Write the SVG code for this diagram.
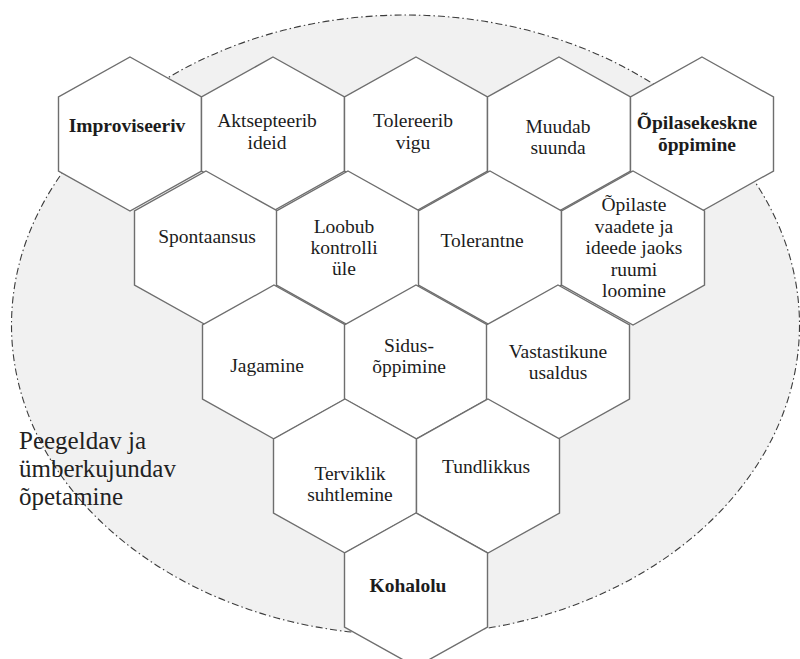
<svg xmlns="http://www.w3.org/2000/svg" width="800" height="659" viewBox="0 0 800 659">
<defs>
<polygon id="hexshape" points="0,0 71.5,40 71.5,114 0,154 -71.5,114 -71.5,40" fill="#ffffff" stroke="#6e6e6e" stroke-width="1.4"/>
</defs>
<rect width="800" height="659" fill="#ffffff"/>
<g id="area">
<ellipse cx="405.5" cy="325" rx="394" ry="310" fill="#f1f1f1" stroke="#3c3c3c" stroke-width="1.1" stroke-dasharray="7 3 1.5 3"/>
<text x="19" y="449" font-size="25" font-family="Liberation Serif" fill="#222222">Peegeldav ja</text>
<text x="19" y="477" font-size="25" font-family="Liberation Serif" fill="#222222">ümberkujundav</text>
<text x="19" y="505" font-size="25" font-family="Liberation Serif" fill="#222222">õpetamine</text>
</g>
<g id="connectors"></g>
<g id="improviseeriv">
<use href="#hexshape" x="130" y="57"/>
<text x="127" y="132" font-size="19.5" font-family="Liberation Serif" fill="#1c1c1c" text-anchor="middle" font-weight="bold">Improviseeriv</text>
</g>
<g id="aktsepteerib">
<use href="#hexshape" x="273" y="57"/>
<text x="267" y="127" font-size="19.5" font-family="Liberation Serif" fill="#1c1c1c" text-anchor="middle">Aktsepteerib</text>
<text x="267" y="149" font-size="19.5" font-family="Liberation Serif" fill="#1c1c1c" text-anchor="middle">ideid</text>
</g>
<g id="tolereerib">
<use href="#hexshape" x="416" y="57"/>
<text x="413" y="127" font-size="19.5" font-family="Liberation Serif" fill="#1c1c1c" text-anchor="middle">Tolereerib</text>
<text x="413" y="149" font-size="19.5" font-family="Liberation Serif" fill="#1c1c1c" text-anchor="middle">vigu</text>
</g>
<g id="muudab">
<use href="#hexshape" x="559" y="57"/>
<text x="558" y="133" font-size="19.5" font-family="Liberation Serif" fill="#1c1c1c" text-anchor="middle">Muudab</text>
<text x="558" y="154" font-size="19.5" font-family="Liberation Serif" fill="#1c1c1c" text-anchor="middle">suunda</text>
</g>
<g id="opilasekeskne">
<use href="#hexshape" x="702" y="57"/>
<text x="697" y="129" font-size="19.5" font-family="Liberation Serif" fill="#1c1c1c" text-anchor="middle" font-weight="bold">Õpilasekeskne</text>
<text x="697" y="151" font-size="19.5" font-family="Liberation Serif" fill="#1c1c1c" text-anchor="middle" font-weight="bold">õppimine</text>
</g>
<g id="spontaansus">
<use href="#hexshape" x="206" y="171"/>
<text x="207" y="243" font-size="19.5" font-family="Liberation Serif" fill="#1c1c1c" text-anchor="middle">Spontaansus</text>
</g>
<g id="loobub">
<use href="#hexshape" x="348" y="171"/>
<text x="344" y="233" font-size="19.5" font-family="Liberation Serif" fill="#1c1c1c" text-anchor="middle">Loobub</text>
<text x="344" y="254" font-size="19.5" font-family="Liberation Serif" fill="#1c1c1c" text-anchor="middle">kontrolli</text>
<text x="344" y="275" font-size="19.5" font-family="Liberation Serif" fill="#1c1c1c" text-anchor="middle">üle</text>
</g>
<g id="tolerantne">
<use href="#hexshape" x="490" y="171"/>
<text x="482" y="247" font-size="19.5" font-family="Liberation Serif" fill="#1c1c1c" text-anchor="middle">Tolerantne</text>
</g>
<g id="opilaste">
<use href="#hexshape" x="633" y="171"/>
<text x="634" y="211" font-size="19.5" font-family="Liberation Serif" fill="#1c1c1c" text-anchor="middle">Õpilaste</text>
<text x="634" y="233" font-size="19.5" font-family="Liberation Serif" fill="#1c1c1c" text-anchor="middle">vaadete ja</text>
<text x="634" y="254" font-size="19.5" font-family="Liberation Serif" fill="#1c1c1c" text-anchor="middle">ideede jaoks</text>
<text x="634" y="276" font-size="19.5" font-family="Liberation Serif" fill="#1c1c1c" text-anchor="middle">ruumi</text>
<text x="634" y="297" font-size="19.5" font-family="Liberation Serif" fill="#1c1c1c" text-anchor="middle">loomine</text>
</g>
<g id="jagamine">
<use href="#hexshape" x="274" y="285"/>
<text x="267" y="372" font-size="19.5" font-family="Liberation Serif" fill="#1c1c1c" text-anchor="middle">Jagamine</text>
</g>
<g id="sidus">
<use href="#hexshape" x="416" y="285"/>
<text x="409" y="352" font-size="19.5" font-family="Liberation Serif" fill="#1c1c1c" text-anchor="middle">Sidus-</text>
<text x="409" y="373" font-size="19.5" font-family="Liberation Serif" fill="#1c1c1c" text-anchor="middle">õppimine</text>
</g>
<g id="vastastikune">
<use href="#hexshape" x="558" y="285"/>
<text x="558" y="358" font-size="19.5" font-family="Liberation Serif" fill="#1c1c1c" text-anchor="middle">Vastastikune</text>
<text x="558" y="379" font-size="19.5" font-family="Liberation Serif" fill="#1c1c1c" text-anchor="middle">usaldus</text>
</g>
<g id="terviklik">
<use href="#hexshape" x="345" y="399"/>
<text x="350" y="480" font-size="19.5" font-family="Liberation Serif" fill="#1c1c1c" text-anchor="middle">Terviklik</text>
<text x="350" y="501" font-size="19.5" font-family="Liberation Serif" fill="#1c1c1c" text-anchor="middle">suhtlemine</text>
</g>
<g id="tundlikkus">
<use href="#hexshape" x="488" y="399"/>
<text x="486" y="473" font-size="19.5" font-family="Liberation Serif" fill="#1c1c1c" text-anchor="middle">Tundlikkus</text>
</g>
<g id="kohalolu">
<use href="#hexshape" x="416" y="513"/>
<text x="408" y="592" font-size="19.5" font-family="Liberation Serif" fill="#1c1c1c" text-anchor="middle" font-weight="bold">Kohalolu</text>
</g>
</svg>
